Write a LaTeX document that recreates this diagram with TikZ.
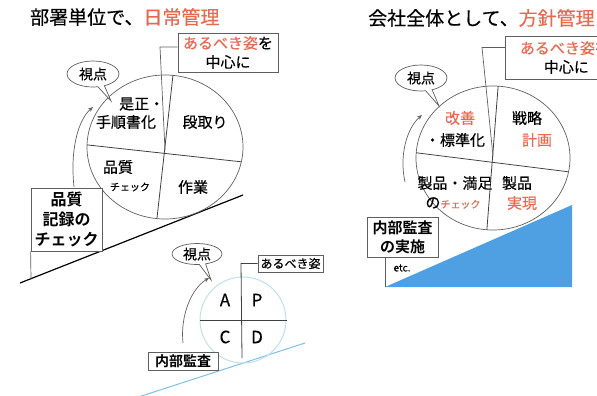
\documentclass[tikz,border=0pt]{standalone}
\usepackage{fontspec}
\setmainfont{Noto Sans CJK JP}[FakeBold=0.45,BoldFont={Noto Sans CJK JP Bold},BoldFeatures={FakeBold=0}]
\usetikzlibrary{shapes.callouts,shapes.geometric,arrows.meta}
\definecolor{jred}{RGB}{232,105,80}
\definecolor{lineg}{RGB}{95,95,95}
\definecolor{tri}{RGB}{78,160,226}
\definecolor{pale}{RGB}{190,224,238}
\definecolor{slopeb}{RGB}{125,192,230}
\begin{document}
\begin{tikzpicture}[x=1pt,y=-1pt,
  title/.style={anchor=west,inner sep=0pt,font=\fontsize{19}{21}\selectfont},
  txt/.style={inner sep=0pt,align=center,font=\fontsize{15}{17}\selectfont},
  small/.style={inner sep=0pt,font=\fontsize{10}{12}\selectfont},
  box/.style={draw=lineg,line width=0.8pt,fill=white,inner sep=0pt,align=center,font=\fontsize{15}{19}\selectfont},
  bubble/.style={ellipse callout,draw=lineg,line width=0.7pt,fill=white,inner sep=0pt,font=\fontsize{14}{16}\selectfont},
  circ/.style={draw=lineg,line width=0.7pt},
  divider/.style={draw=black!75,line width=0.8pt},
  lead/.style={draw=lineg,line width=0.7pt},
  curvearrow/.style={draw=lineg,line width=0.7pt,-{Stealth[length=5pt,width=4pt]}},
  pdca/.style={inner sep=0pt,font=\fontsize{17}{19}\selectfont}
]
\useasboundingbox (0,0) rectangle (597,396);

% ---------------- titles
\node[title] (t1) at (30,17) {部署単位で、\textcolor{jred}{日常管理}};
\node[title] (t2) at (368,18) {会社全体として、\textcolor{jred}{方針管理}};

% ---------------- left top diagram
\draw[black,line width=1.2pt] (20,283) -- (243,195);
\draw[circ] (165,147) ellipse [x radius=78pt, y radius=72pt];
\begin{scope}
  \clip (165,147) ellipse [x radius=78pt, y radius=72pt];
  \draw[divider] (174.6,60.7) -- (155.4,232.3);
  \draw[divider] (72.5,143.3) -- (258.5,163.7);
\end{scope}
\coordinate (c1) at (165,150);
\node[box,minimum width=100pt,minimum height=39pt] (bx1) at (228,52.5)
  {\textcolor{jred}{あるべき姿}を\\中心に};
\draw[lead] ([yshift=5.5pt]bx1.west) -- (160,47) -- (c1);
\node[bubble,minimum width=52pt,minimum height=26pt,callout absolute pointer={(111,101)}] (v1) at (93,74) {視点};
\node[txt,anchor=west] (l1) at (119,104) {是正・};
\node[txt] (l2) at (126,122) {手順書化};
\node[txt] (l3) at (205,122) {段取り};
\node[txt] (l4) at (118,167) {品質};
\node[small] (l5) at (130,187) {チェック};
\node[txt] (l6) at (193,187) {作業};
\node[box,minimum width=71pt,minimum height=63pt,font=\fontsize{16}{20}\selectfont\bfseries] (q1) at (66.5,219.5) {品質\\記録の\\チェック};
\draw[lead] (q1.south west) -- (31,279);
\coordinate (a1s) at (74,187);
\coordinate (a1e) at (93,107);
\draw[curvearrow] (a1s) .. controls (70,150) and (78,120) .. (a1e);

% ---------------- right top diagram
\fill[tri] (385,287) -- (572,287) -- (572,205) -- cycle;
\draw[circ] (493,158) ellipse [x radius=77pt, y radius=72pt];
\begin{scope}
  \clip (493,158) ellipse [x radius=77pt, y radius=72pt];
  \draw[divider] (499.1,74) -- (485.9,242);
  \draw[divider] (402.8,151.1) -- (585.2,173.9);
\end{scope}
\coordinate (c2) at (493,156);
\node[box,minimum width=116pt,minimum height=43pt,align=left,anchor=west] (bx2) at (505,57.5)
  {\hspace*{3pt}\textcolor{jred}{あるべき姿}を\\\hspace*{27pt}中心に};
\draw[lead] ([yshift=10pt]bx2.west) -- (482,47.5) -- (c2);
\node[bubble,minimum width=52pt,minimum height=26pt,callout absolute pointer={(439,106)}] (v2) at (421,78) {視点};
\node[txt,text=jred] (r1) at (460,118) {改善};
\node[txt] (r2) at (455,140) {・標準化};
\node[txt] (r3) at (527,118) {戦略};
\node[txt,text=jred] (r4) at (537,140) {計画};
\node[txt] (r5) at (455,183) {製品・満足};
\node[txt] (r6) at (453,203) {の\textcolor{jred}{\fontsize{10}{12}\selectfont チェック}};
\node[txt] (r7) at (517,183) {製品};
\node[txt,text=jred] (r8) at (522,203) {実現};
\node[box,minimum width=71pt,minimum height=40pt,font=\fontsize{15}{19}\selectfont\bfseries] (q2) at (402.5,237) {内部監査\\の実施};
\draw[lead] (385,257) -- (385,287);
\node[small] (etc) at (402,268) {etc.};
\coordinate (a2s) at (405,182);
\coordinate (a2e) at (422,115);
\draw[curvearrow] (a2s) .. controls (399,155) and (407,128) .. (a2e);

% ---------------- bottom PDCA diagram
\draw[slopeb,line width=1pt] (140,396.5) -- (305,343);
\draw[pale,line width=1pt] (243,320) circle [radius=43pt];
\draw[divider] (200,320) -- (287,320);
\node[box,minimum width=65pt,minimum height=17pt,font=\fontsize{12}{14}\selectfont] (pb) at (290.5,263.5) {あるべき姿};
\draw[divider] (pb.west) -- (241,263.5) -- (242,358);
\node[pdca] (pA) at (225,300) {A};
\node[pdca] (pP) at (257,300) {P};
\node[pdca] (pC) at (225,337) {C};
\node[pdca] (pD) at (257,337) {D};
\node[bubble,minimum width=50pt,minimum height=21pt,callout absolute pointer={(211,280)}] (v3) at (197,254) {視点};
\node[box,minimum width=70pt,minimum height=18pt,font=\fontsize{14}{16}\selectfont\bfseries] (q3) at (183,361) {内部監査};
\coordinate (a3s) at (183,343);
\coordinate (a3e) at (209,278);
\draw[curvearrow] (a3s) .. controls (180,315) and (192,288) .. (a3e);
\end{tikzpicture}
\end{document}
